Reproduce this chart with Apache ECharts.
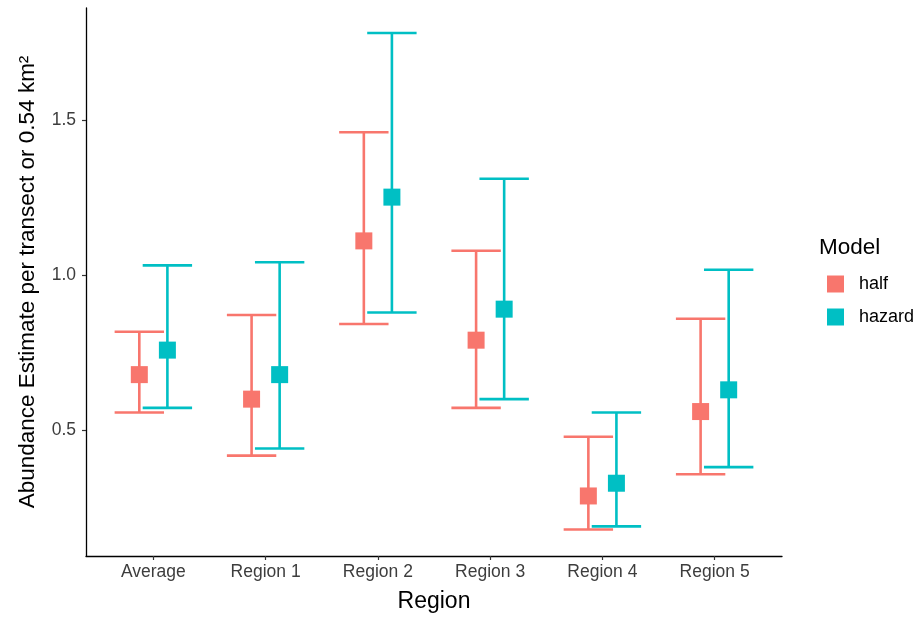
<!DOCTYPE html>
<html>
<head>
<meta charset="utf-8">
<script src="https://cdn.jsdelivr.net/npm/echarts@6/dist/echarts.min.js"></script>
<style>html,body{margin:0;padding:0;background:#fff;}#c{width:917px;height:618px;}</style>
</head>
<body>
<div id="c"></div>
<script>
const categories = ['Average', 'Region 1', 'Region 2', 'Region 3', 'Region 4', 'Region 5'];
const halfEst   = [0.679, 0.600, 1.110, 0.790, 0.288, 0.560];
const halfLow   = [0.557, 0.418, 0.842, 0.572, 0.180, 0.358];
const halfHigh  = [0.817, 0.871, 1.460, 1.078, 0.479, 0.859];
const hazEst    = [0.758, 0.679, 1.251, 0.890, 0.329, 0.630];
const hazLow    = [0.572, 0.441, 0.879, 0.600, 0.190, 0.381];
const hazHigh   = [1.031, 1.041, 1.780, 1.310, 0.557, 1.017];
const yTicks    = [0.5, 1.0, 1.5];
const models    = ['half', 'hazard'];

const colors = { half: '#F8766D', hazard: '#00BFC4' };
const dodge = { half: -0.125, hazard: 0.125 };
const capWidth = 0.44;

function pts(est, off) { return est.map((v, i) => [i + off, v]); }
function bars(lo, hi, off) { return lo.map((v, i) => [i + off, v, hi[i]]); }

function errRender(color) {
  return function (params, api) {
    const x = api.value(0), lo = api.value(1), hi = api.value(2);
    const pLo = api.coord([x, lo]), pHi = api.coord([x, hi]);
    const half = api.size([capWidth, 0])[0] / 2;
    const style = { stroke: color, lineWidth: 2.6 };
    return {
      type: 'group',
      children: [
        { type: 'line', shape: { x1: pLo[0], y1: pLo[1], x2: pHi[0], y2: pHi[1] }, style },
        { type: 'line', shape: { x1: pLo[0] - half, y1: pLo[1], x2: pLo[0] + half, y2: pLo[1] }, style },
        { type: 'line', shape: { x1: pHi[0] - half, y1: pHi[1], x2: pHi[0] + half, y2: pHi[1] }, style }
      ]
    };
  };
}

const chart = echarts.init(document.getElementById('c'), null, { renderer: 'canvas' });
const font = 'Liberation Sans, Arial, sans-serif';
chart.setOption({
  animation: false,
  backgroundColor: '#fff',
  grid: { left: 86, right: 135, top: 8, bottom: 62, containLabel: false },
  title: {
    text: 'Model', left: 814, top: 231,
    textStyle: { fontFamily: font, fontSize: 22.5, fontWeight: 'normal', color: '#000' }
  },
  legend: {
    orient: 'vertical', left: 822, top: 270, itemWidth: 17, itemHeight: 17, itemGap: 15,
    data: [
      { name: models[0], icon: 'rect', itemStyle: { color: colors.half } },
      { name: models[1], icon: 'rect', itemStyle: { color: colors.hazard } }
    ],
    textStyle: { fontFamily: font, fontSize: 18, color: '#000', padding: [0, 0, 0, 10] }
  },
  xAxis: {
    type: 'value', min: -0.6, max: 5.6,
    name: 'Region', nameLocation: 'middle', nameGap: 34,
    nameTextStyle: { fontFamily: font, fontSize: 23, color: '#000' },
    axisLine: { show: true, onZero: false, lineStyle: { color: '#000', width: 1.3 } },
    axisTick: { show: true, customValues: categories.map((c, i) => i), length: 4, lineStyle: { color: '#333', width: 1.2 } },
    axisLabel: {
      customValues: categories.map((c, i) => i),
      formatter: v => categories[Math.round(v)] || '',
      fontFamily: font, fontSize: 17.5, color: '#3d3d3d', margin: 7
    },
    splitLine: { show: false }
  },
  yAxis: {
    type: 'value', min: 0.0945, max: 1.8605,
    name: 'Abundance Estimate per transect or 0.54 km²', nameLocation: 'middle', nameGap: 47,
    nameTextStyle: { fontFamily: font, fontSize: 22.5, color: '#000' },
    axisLine: { show: true, onZero: false, lineStyle: { color: '#000', width: 1.3 } },
    axisTick: { show: true, customValues: yTicks, length: 4, lineStyle: { color: '#333', width: 1.2 } },
    axisLabel: {
      customValues: yTicks,
      formatter: v => v.toFixed(1),
      fontFamily: font, fontSize: 17.5, color: '#3d3d3d', margin: 10
    },
    splitLine: { show: false }
  },
  series: [
    { name: 'half', type: 'custom', renderItem: errRender(colors.half), data: bars(halfLow, halfHigh, dodge.half), z: 2 },
    { name: 'hazard', type: 'custom', renderItem: errRender(colors.hazard), data: bars(hazLow, hazHigh, dodge.hazard), z: 2 },
    { name: 'half', type: 'scatter', symbol: 'rect', symbolSize: 17, itemStyle: { color: colors.half, opacity: 1 }, data: pts(halfEst, dodge.half), z: 3 },
    { name: 'hazard', type: 'scatter', symbol: 'rect', symbolSize: 17, itemStyle: { color: colors.hazard, opacity: 1 }, data: pts(hazEst, dodge.hazard), z: 3 }
  ]
});
</script>
</body>
</html>
